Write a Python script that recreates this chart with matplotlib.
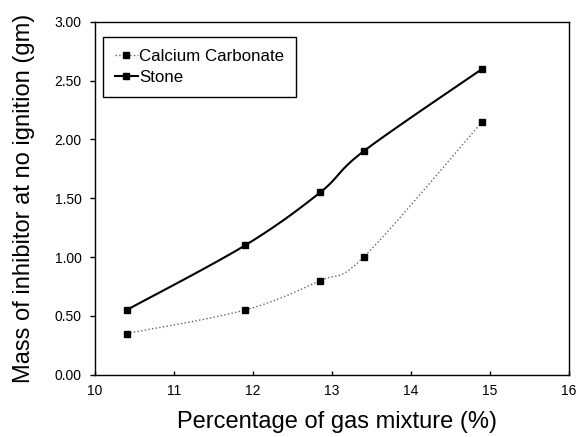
import numpy as np
import matplotlib.pyplot as plt

plt.rcParams['font.family'] = ['Liberation Sans', 'DejaVu Sans']

gas_pct = [10.4, 11.9, 12.85, 13.4, 14.9]
calcium_carbonate = [0.35, 0.55, 0.80, 1.00, 2.15]
stone = [0.55, 1.10, 1.55, 1.90, 2.60]
x_ticks = [10, 11, 12, 13, 14, 15, 16]
y_ticks = [0.0, 0.5, 1.0, 1.5, 2.0, 2.5, 3.0]


def smooth(x, y, n=30):
    # Excel-style smoothed line: Bezier segments with Catmull-Rom control points
    x = np.asarray(x, float)
    y = np.asarray(y, float)
    px = np.concatenate([[x[0]], x, [x[-1]]])
    py = np.concatenate([[y[0]], y, [y[-1]]])
    xs, ys = [], []
    t = np.linspace(0, 1, n)
    for i in range(1, len(px) - 2):
        p0 = np.array([px[i], py[i]])
        p3 = np.array([px[i + 1], py[i + 1]])
        p1 = p0 + (np.array([px[i + 1], py[i + 1]]) - np.array([px[i - 1], py[i - 1]])) / 6
        p2 = p3 - (np.array([px[i + 2], py[i + 2]]) - np.array([px[i], py[i]])) / 6
        b = ((1 - t) ** 3)[:, None] * p0 + (3 * (1 - t) ** 2 * t)[:, None] * p1 \
            + (3 * (1 - t) * t ** 2)[:, None] * p2 + (t ** 3)[:, None] * p3
        xs.extend(b[:, 0])
        ys.extend(b[:, 1])
    return xs, ys


fig = plt.figure(figsize=(5.76, 4.37), dpi=100)
ax = fig.add_axes([0.165, 0.1426, 0.823, 0.8074])

cx, cy = smooth(gas_pct, calcium_carbonate)
sx, sy = smooth(gas_pct, stone)
ax.plot(cx, cy, color='#666666', linestyle=':', linewidth=1)
ax.plot(sx, sy, color='black', linewidth=1.5)
ax.plot(gas_pct, calcium_carbonate, 's', color='black', markersize=5)
ax.plot(gas_pct, stone, 's', color='black', markersize=5)

# legend proxies
ax.plot([], [], color='#666666', linestyle=':', linewidth=1, marker='s',
        markersize=5, markerfacecolor='black', markeredgecolor='black', label='Calcium Carbonate')
ax.plot([], [], color='black', linewidth=1.5, marker='s', markersize=5,
        label='Stone')

ax.set_xlim(10, 16)
ax.set_ylim(0, 3)
ax.set_xticks(x_ticks)
ax.set_yticks(y_ticks)
ax.set_yticklabels([f'{v:.2f}' for v in y_ticks])
ax.tick_params(axis='x', labelsize=10, direction='in', length=3, width=1, pad=7)
ax.tick_params(axis='y', labelsize=10, direction='out', length=3.5, width=1, pad=6)
for s in ax.spines.values():
    s.set_linewidth(1)

ax.set_xlabel('Percentage of gas mixture (%)', fontsize=17)
ax.set_ylabel('Mass of inhibitor at no ignition (gm)', fontsize=17)
ax.xaxis.set_label_coords(0.51, -0.103)
ax.yaxis.set_label_coords(-0.127, 0.5)

leg = ax.legend(loc='upper left', bbox_to_anchor=(0.017, 0.957), borderaxespad=0,
                fontsize=12.2, frameon=True, fancybox=False, edgecolor='black',
                framealpha=1, handlelength=1.4, handletextpad=0.05,
                borderpad=0.68, labelspacing=0.4)
leg.get_frame().set_linewidth(1)

fig.savefig('out.png', dpi=100)
